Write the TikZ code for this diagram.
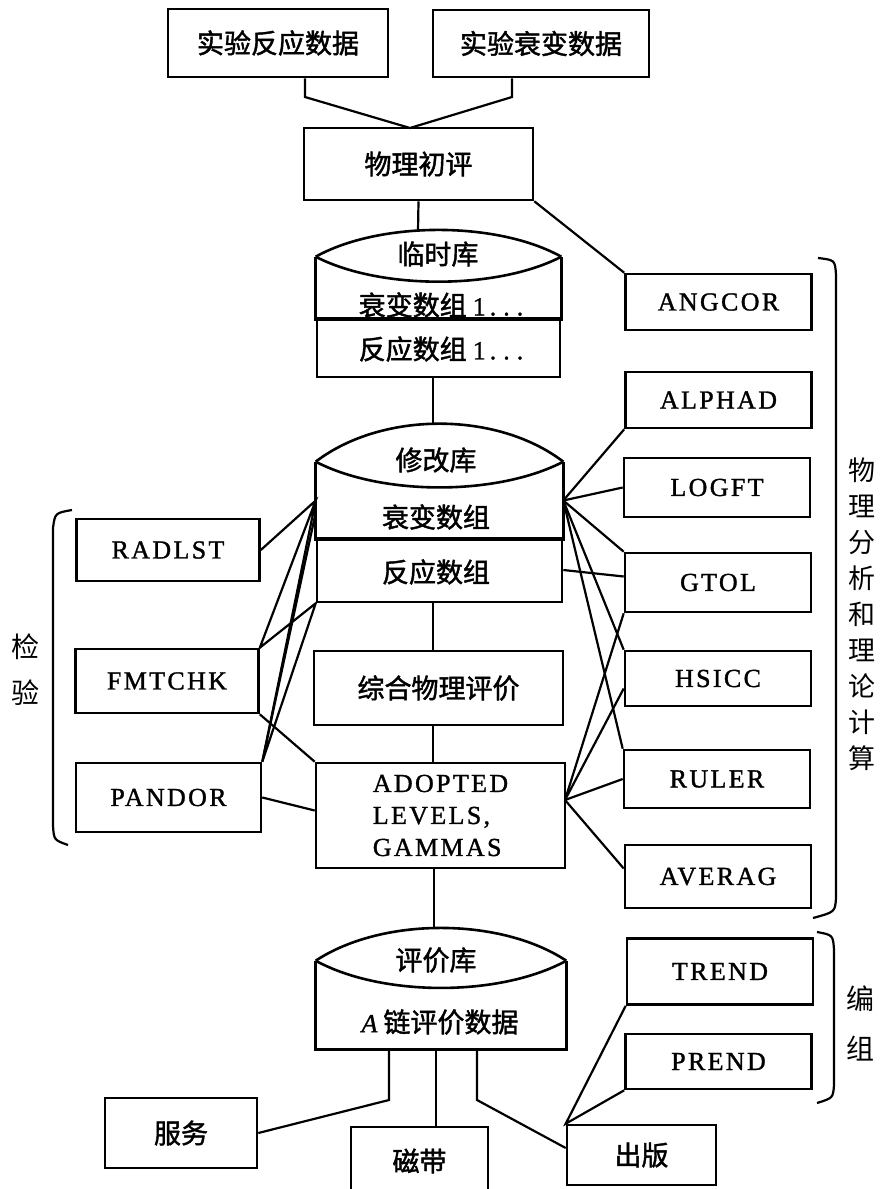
\documentclass[tikz,border=0pt]{standalone}
\usepackage{fontspec}
\setmainfont{Liberation Serif}
\newfontfamily\cjk{Noto Sans CJK SC}
\newfontfamily\cjkb[FakeBold=1.6]{Noto Sans CJK SC}
\newfontfamily\lat[LetterSpace=9,FakeBold=1.2]{Liberation Serif}
\newcommand{\zhtext}{\cjkb\fontsize{27}{32}\selectfont}
\newcommand{\entext}{\lat\fontsize{26}{32}\selectfont}

\begin{document}
\begin{tikzpicture}[x=1pt,y=-1pt,line width=2.2pt]
            \tikzstyle{every node}=[inner sep=0pt,font=\zhtext]
            \tikzstyle{box}=[draw,rectangle,line width=2.6pt]
            \tikzstyle{rbox}=[box,minimum width=186pt,minimum height=57pt,font=\entext]
            \tikzstyle{lbox}=[box,minimum width=183pt,minimum height=64pt,font=\entext]
            \tikzstyle{dbtop}=[rectangle,line width=2.6pt]
            \useasboundingbox (0,0) rectangle (881,1189);
            % data sources and first evaluation
            \draw (278,43) node [box,minimum width=220pt,minimum height=68pt] (rdat) {实验反应数据};
            \draw (541,43.5) node [box,minimum width=216pt,minimum height=67pt] (ddat) {实验衰变数据};
            \draw (418.5,164) node [box,minimum width=229pt,minimum height=72pt] (pre) {物理初评};
            \coordinate (j1) at (305,97);
            \coordinate (j2) at (512,97);
            \coordinate (jm) at (410,128);
            \draw (rdat.south -| j1) -- (j1) -- (jm) -- (j2) -- (ddat.south -| j2);
            % temporary library
            \draw (438.5,288) node [dbtop,minimum width=243pt,minimum height=60pt] (t1) {};
            \draw (438.5,347.5) node [box,minimum width=243pt,minimum height=59pt] (t2) {};
            \draw[line width=2.6pt] (t1.north west) -- (t1.south west) -- (t1.south east) -- (t1.north east);
            \draw[line width=2.6pt] (t1.north west) .. controls (380,221) and (497,221) .. (t1.north east);
            \draw[line width=2.6pt] (t1.north west) .. controls (380,290) and (497,290) .. (t1.north east);
            \draw (438,254) node (tname) {临时库};
            \draw (441,305) node (tdec) {衰变数组 {\entext 1\hspace{4pt}.\hspace{7pt}.\hspace{7pt}.}};
            \draw (441,349) node (trea) {反应数组 {\entext 1\hspace{4pt}.\hspace{7pt}.\hspace{7pt}.}};
            \coordinate (ttop) at (418,231);
            \draw (pre.south) -- (ttop);
            % modified library
            \draw (439.5,500.5) node [dbtop,minimum width=245pt,minimum height=75pt] (m1) {};
            \draw (439.5,570) node [box,minimum width=245pt,minimum height=64pt] (m2) {};
            \draw[line width=2.6pt] (m1.north west) -- (m1.south west) -- (m1.south east) -- (m1.north east);
            \draw[line width=2.6pt] (m1.north west) .. controls (382,411) and (497,411) .. (m1.north east);
            \draw[line width=2.6pt] (m1.north west) .. controls (382,496) and (497,496) .. (m1.north east);
            \draw (436,460) node (mname) {修改库};
            \draw (436,517) node (mdec) {衰变数组};
            \draw (436,572) node (mrea) {反应数组};
            \coordinate (mtop) at (433,425);
            \draw (mtop |- t2.south) -- (mtop);
            % evaluation
            \draw (438.5,688) node [box,minimum width=249pt,minimum height=74pt] (cmp) {综合物理评价};
            \draw (440.5,815.5) node [box,minimum width=249pt,minimum height=105pt,font=\entext,align=left] (ad) {ADOPTED\\LEVELS,\\GAMMAS};
            \draw (mtop |- m2.south) -- (mtop |- cmp.north);
            \draw (mtop |- cmp.south) -- (mtop |- ad.north);
            % evaluated library
            \draw (441,1005) node [dbtop,minimum width=248pt,minimum height=86pt] (e1) {};
            \draw[line width=2.6pt] (e1.north west) -- (e1.south west) -- (e1.south east) -- (e1.north east);
            \draw[line width=2.6pt] (e1.north west) .. controls (382,917) and (500,917) .. (e1.north east);
            \draw[line width=2.6pt] (e1.north west) .. controls (382,997) and (500,997) .. (e1.north east);
            \draw (436,960) node (ename) {评价库};
            \draw (440,1022) node (edat) {{\entext\itshape A} 链评价数据};
            \coordinate (etop) at (434,929);
            \draw (etop |- ad.south) -- (etop);
            % physics codes
            \draw (718.5,302) node [rbox,minimum height=56pt] (ang) {ANGCOR};
            \draw (718.5,400) node [rbox,minimum height=56pt] (al) {ALPHAD};
            \draw (717,487.5) node [rbox,minimum height=59pt] (lg) {LOGFT};
            \draw (718,582.5) node [rbox,minimum height=59pt] (gt) {GTOL};
            \draw (718,678.5) node [rbox,minimum height=55pt] (hs) {HSICC};
            \draw (717,779) node [rbox,minimum height=58pt] (ru) {RULER};
            \draw (718,876.5) node [rbox,minimum height=63pt] (av) {AVERAG};
            \draw (720,971.5) node [rbox,minimum height=66pt] (tr) {TREND};
            \draw (718.5,1061.5) node [rbox,minimum height=55pt] (pr) {PREND};
            \draw (pre.south east) -- (ang.north west);
            \foreach \n in {al.south west,lg.west,gt.north west,hs.north west,ru.north west}
                \draw (m1.east) -- (\n);
            \draw (m2.east) -- ([yshift=6pt]gt.west);
            \coordinate (adr) at (565,800);
            \draw (adr) -- (gt.south west);
            \draw (adr) -- ([yshift=-10pt]hs.west);
            \draw (adr) -- (ru.west);
            \draw (adr) -- ([yshift=8pt]av.west);
            % check codes
            \draw (168,550) node [lbox,minimum height=62pt] (ra) {RADLST};
            \draw (167,681) node [lbox] (fm) {FMTCHK};
            \draw (168.5,797.5) node [lbox,minimum width=185pt,minimum height=69pt] (pa) {PANDOR};
            \draw (ra.east) -- (m1.west) -- (fm.north east) -- (m2.south west) -- (pa.north east) -- (m1.west);
            \draw (pa.north east) -- ([yshift=-12pt]m1.west);
            \draw (fm.south east) -- (ad.north west);
            \draw (pa.east) -- ([yshift=5pt]ad.west);
            % output
            \draw (181,1133) node [box,minimum width=152pt,minimum height=70pt] (sv) {服务};
            \draw (419.5,1161) node [box,minimum width=137pt,minimum height=68pt] (mt) {磁带};
            \draw (641.5,1155) node [box,minimum width=149pt,minimum height=60pt] (pb) {出版};
            \coordinate (b1) at (389,1100);
            \coordinate (b2) at (436,1100);
            \coordinate (b3) at (477,1100);
            \draw (b1 |- e1.south) -- (b1) -- (sv.east);
            \draw (b2 |- e1.south) -- (b2 |- mt.north);
            \draw (b3 |- e1.south) -- (b3) -- ([yshift=7pt]pb.west);
            \draw (tr.south west) -- (pb.north west) -- (pr.south west);
            % braces and side labels
            \draw (72,510) .. controls (55,513) .. (53,528) -- (53,826) .. controls (54,840) .. (68,845);
            \draw (818,258) .. controls (835,260) .. (836,275) -- (836,898) .. controls (835,912) .. (813,918);
            \draw (817,932) .. controls (833,935) .. (834,950) -- (834,1085) .. controls (833,1098) .. (817,1103);
            \draw (26,670) node [align=center,font=\cjk\fontsize{28}{46}\selectfont] (chk) {检\\验};
            \draw (862,614) node [align=center,font=\cjk\fontsize{27}{36}\selectfont] (calc) {物\\理\\分\\析\\和\\理\\论\\计\\算};
            \draw (860,1023) node [align=center,font=\cjk\fontsize{28}{50}\selectfont] (edit) {编\\组};
\end{tikzpicture}
\end{document}
